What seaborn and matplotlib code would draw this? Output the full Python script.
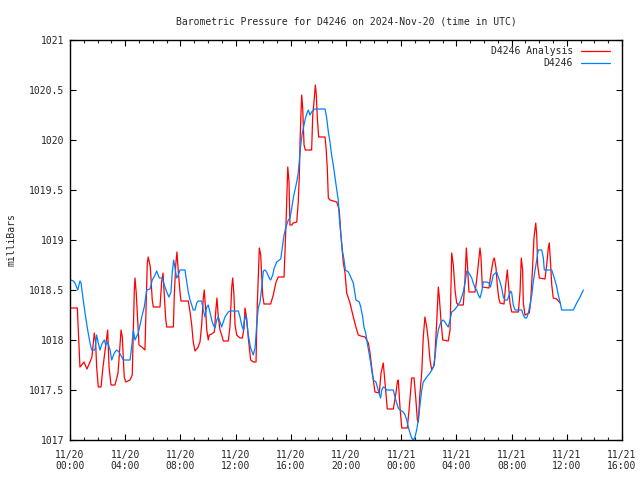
import matplotlib
matplotlib.use("Agg")
import matplotlib.pyplot as plt
import seaborn as sns
import pandas as pd
from matplotlib.ticker import MultipleLocator

# ---- data (hours after 2024-11-20 00:00 UTC, pressure in mb) ----
analysis_hours = [0.07, 0.53, 0.72, 0.85, 1.01, 1.23, 1.45, 1.59, 1.76, 1.86, 1.93, 2.05, 2.25, 2.39, 2.66, 2.73,
                  2.83, 2.97, 3.26, 3.48, 3.70, 3.79, 3.93, 4.04, 4.35, 4.51, 4.66, 4.71, 4.80, 5.00, 5.20, 5.43,
                  5.60, 5.67, 5.82, 5.96, 6.04, 6.52, 6.64, 6.74, 6.83, 6.93, 7.01, 7.49, 7.56, 7.66, 7.75, 7.85,
                  7.97, 8.04, 8.57, 8.70, 8.82, 8.93, 9.06, 9.25, 9.42, 9.54, 9.66, 9.73, 9.83, 9.91, 10.02, 10.09,
                  10.27, 10.46, 10.58, 10.65, 10.75, 10.87, 10.99, 11.11, 11.47, 11.59, 11.72, 11.79, 11.88, 11.96,
                  12.08, 12.32, 12.49, 12.61, 12.68, 12.80, 12.92, 13.09, 13.28, 13.48, 13.57, 13.72, 13.82, 13.96,
                  14.06, 14.54, 14.73, 14.93, 15.09, 15.51, 15.65, 15.78, 15.87, 15.94, 16.07, 16.18, 16.43, 16.54,
                  16.62, 16.67, 16.74, 16.79, 16.86, 16.96, 17.05, 17.51, 17.59, 17.68, 17.78, 17.85, 17.92, 18.02,
                  18.48, 18.55, 18.64, 18.72, 18.84, 19.33, 19.51, 19.62, 19.71, 19.80, 19.93, 20.05, 20.29, 20.53,
                  20.72, 20.89, 21.07, 21.38, 21.62, 21.74, 21.86, 21.98, 22.10, 22.41, 22.54, 22.70, 22.83, 22.95,
                  22.99, 23.43, 23.62, 23.72, 23.79, 23.91, 24.04, 24.44, 24.57, 24.76, 24.93, 25.05, 25.17, 25.24,
                  25.36, 25.49, 25.60, 25.72, 25.85, 25.96, 26.09, 26.21, 26.40, 26.45, 26.57, 26.69, 26.76, 26.88,
                  27.01, 27.41, 27.54, 27.66, 27.78, 27.90, 28.02, 28.14, 28.50, 28.62, 28.72, 28.79, 28.91, 29.35,
                  29.47, 29.71, 29.78, 29.88, 30.36, 30.51, 30.67, 30.75, 30.87, 30.96, 31.07, 31.16, 31.45, 31.57,
                  31.69, 31.79, 31.88, 32.01, 32.49, 32.61, 32.70, 32.80, 32.85, 32.97, 33.28, 33.38, 33.53, 33.62,
                  33.75, 33.82, 33.89, 34.01, 34.42, 34.54, 34.66, 34.73, 34.80, 34.91, 35.02, 35.27, 35.51]
analysis_mb = [1018.32, 1018.32, 1017.73, 1017.75, 1017.78, 1017.71, 1017.78, 1017.83, 1018.07, 1017.97, 1017.73,
               1017.53, 1017.53, 1017.73, 1018.03, 1018.10, 1017.73, 1017.55, 1017.55, 1017.67, 1018.10, 1018.03,
               1017.63, 1017.58, 1017.60, 1017.65, 1018.50, 1018.62, 1018.47, 1017.95, 1017.93, 1017.90, 1018.77,
               1018.83, 1018.73, 1018.40, 1018.33, 1018.33, 1018.58, 1018.67, 1018.45, 1018.22, 1018.13, 1018.13,
               1018.45, 1018.75, 1018.88, 1018.68, 1018.48, 1018.39, 1018.39, 1018.28, 1018.15, 1017.98, 1017.89,
               1017.92, 1017.98, 1018.15, 1018.42, 1018.50, 1018.30, 1018.10, 1018.00, 1018.05, 1018.06, 1018.08,
               1018.32, 1018.42, 1018.22, 1018.10, 1018.05, 1017.99, 1017.99, 1018.13, 1018.53, 1018.62, 1018.45,
               1018.15, 1018.05, 1018.02, 1018.02, 1018.12, 1018.32, 1018.22, 1018.02, 1017.80, 1017.78, 1017.78,
               1018.35, 1018.92, 1018.85, 1018.45, 1018.36, 1018.36, 1018.45, 1018.58, 1018.63, 1018.63, 1019.15,
               1019.73, 1019.58, 1019.15, 1019.15, 1019.17, 1019.18, 1019.38, 1019.65, 1019.98, 1020.28, 1020.45,
               1020.32, 1019.95, 1019.90, 1019.90, 1020.25, 1020.38, 1020.55, 1020.45, 1020.22, 1020.03, 1020.03,
               1019.93, 1019.73, 1019.42, 1019.40, 1019.38, 1019.30, 1019.07, 1018.93, 1018.78, 1018.67, 1018.47,
               1018.37, 1018.23, 1018.13, 1018.05, 1018.04, 1018.03, 1017.97, 1017.87, 1017.73, 1017.60, 1017.48,
               1017.47, 1017.67, 1017.77, 1017.57, 1017.38, 1017.31, 1017.31, 1017.47, 1017.58, 1017.60, 1017.33,
               1017.12, 1017.12, 1017.30, 1017.62, 1017.62, 1017.43, 1017.20, 1017.18, 1017.47, 1017.68, 1018.03,
               1018.23, 1018.13, 1018.00, 1017.80, 1017.70, 1017.75, 1017.87, 1018.17, 1018.53, 1018.43, 1018.20,
               1018.00, 1017.99, 1018.10, 1018.87, 1018.75, 1018.50, 1018.37, 1018.35, 1018.35, 1018.60, 1018.92,
               1018.77, 1018.48, 1018.48, 1018.60, 1018.92, 1018.83, 1018.53, 1018.52, 1018.67, 1018.80, 1018.82,
               1018.72, 1018.55, 1018.42, 1018.37, 1018.36, 1018.55, 1018.70, 1018.52, 1018.37, 1018.28, 1018.28,
               1018.48, 1018.82, 1018.70, 1018.37, 1018.25, 1018.27, 1018.38, 1018.75, 1019.02, 1019.17, 1019.05,
               1018.75, 1018.62, 1018.61, 1018.75, 1018.92, 1018.97, 1018.82, 1018.55, 1018.42, 1018.41, 1018.37]

obs_hours = [0.07, 0.24, 0.36, 0.56, 0.72, 0.80, 0.89, 1.09, 1.28, 1.45, 1.57, 1.81, 1.93, 2.05, 2.17, 2.34, 2.49,
             2.59, 2.73, 2.90, 3.02, 3.21, 3.38, 3.55, 3.75, 3.86, 4.35, 4.47, 4.59, 4.71, 4.95, 5.20, 5.38, 5.56,
             5.80, 5.96, 6.16, 6.28, 6.47, 6.69, 6.83, 7.01, 7.17, 7.32, 7.41, 7.51, 7.61, 7.73, 7.85, 7.97, 8.33,
             8.46, 8.57, 8.70, 8.82, 8.93, 9.06, 9.18, 9.30, 9.54, 9.66, 9.78, 9.91, 10.02, 10.14, 10.27, 10.38,
             10.51, 10.63, 10.75, 10.87, 10.99, 11.11, 11.23, 11.47, 11.59, 12.20, 12.32, 12.44, 12.56, 12.61,
             12.75, 12.92, 13.09, 13.28, 13.41, 13.53, 13.64, 13.77, 13.89, 14.01, 14.13, 14.25, 14.44, 14.54,
             14.69, 14.80, 14.98, 15.17, 15.27, 15.38, 15.51, 15.63, 15.82, 15.94, 16.07, 16.18, 16.30, 16.43,
             16.54, 16.62, 16.72, 16.81, 16.91, 17.03, 17.15, 17.27, 17.39, 17.51, 17.63, 17.75, 18.48, 18.60,
             18.72, 18.84, 18.96, 19.08, 19.20, 19.33, 19.44, 19.51, 19.62, 19.73, 19.86, 19.95, 20.17, 20.34,
             20.53, 20.72, 20.96, 21.07, 21.21, 21.30, 21.43, 21.54, 21.67, 21.79, 21.86, 21.98, 22.17, 22.27,
             22.39, 22.51, 22.59, 22.70, 22.83, 22.95, 23.43, 23.55, 23.67, 23.79, 23.91, 24.15, 24.28, 24.40,
             24.51, 24.64, 24.76, 24.88, 25.00, 25.12, 25.24, 25.36, 25.49, 25.60, 25.85, 26.09, 26.33, 26.45,
             26.57, 26.69, 26.88, 27.05, 27.17, 27.30, 27.41, 27.54, 27.66, 27.85, 28.02, 28.26, 28.38, 28.50,
             28.62, 28.75, 28.86, 28.99, 29.11, 29.22, 29.35, 29.47, 29.59, 29.71, 29.83, 29.95, 30.19, 30.36,
             30.46, 30.56, 30.67, 30.92, 31.04, 31.16, 31.28, 31.40, 31.52, 31.69, 31.83, 31.93, 32.01, 32.12,
             32.25, 32.73, 32.85, 32.97, 33.09, 33.21, 33.33, 33.46, 33.57, 33.70, 33.82, 33.93, 34.18, 34.30,
             34.37, 34.91, 35.02, 35.14, 35.27, 35.38, 35.51, 35.63, 36.47, 36.72, 36.96, 37.20]
obs_mb = [1018.60, 1018.59, 1018.57, 1018.50, 1018.59, 1018.57, 1018.47, 1018.27, 1018.10, 1017.97, 1017.90,
          1017.90, 1018.05, 1017.97, 1017.90, 1017.97, 1018.00, 1017.95, 1017.98, 1017.90, 1017.80, 1017.87,
          1017.90, 1017.88, 1017.83, 1017.80, 1017.80, 1017.93, 1018.10, 1018.00, 1018.07, 1018.23, 1018.33,
          1018.50, 1018.51, 1018.60, 1018.65, 1018.69, 1018.62, 1018.62, 1018.55, 1018.48, 1018.43, 1018.48,
          1018.68, 1018.80, 1018.72, 1018.62, 1018.65, 1018.70, 1018.70, 1018.58, 1018.48, 1018.40, 1018.35,
          1018.30, 1018.30, 1018.37, 1018.39, 1018.39, 1018.30, 1018.23, 1018.33, 1018.35, 1018.28, 1018.20,
          1018.15, 1018.12, 1018.20, 1018.23, 1018.18, 1018.13, 1018.18, 1018.23, 1018.28, 1018.29, 1018.29,
          1018.23, 1018.15, 1018.10, 1018.18, 1018.25, 1018.05, 1017.92, 1017.85, 1017.92, 1018.15, 1018.32,
          1018.38, 1018.52, 1018.69, 1018.70, 1018.68, 1018.62, 1018.60, 1018.65, 1018.72, 1018.78, 1018.80,
          1018.81, 1018.92, 1019.05, 1019.12, 1019.20, 1019.22, 1019.32, 1019.42, 1019.50, 1019.58, 1019.67,
          1019.80, 1019.95, 1020.05, 1020.12, 1020.20, 1020.26, 1020.30, 1020.25, 1020.28, 1020.30, 1020.31,
          1020.31, 1020.22, 1020.08, 1019.98, 1019.85, 1019.75, 1019.63, 1019.50, 1019.40, 1019.23, 1019.07,
          1018.90, 1018.80, 1018.70, 1018.68, 1018.63, 1018.57, 1018.40, 1018.38, 1018.33, 1018.23, 1018.13,
          1018.07, 1017.97, 1017.87, 1017.77, 1017.70, 1017.60, 1017.58, 1017.53, 1017.47, 1017.42, 1017.50,
          1017.53, 1017.52, 1017.50, 1017.50, 1017.43, 1017.37, 1017.32, 1017.30, 1017.28, 1017.25, 1017.20,
          1017.13, 1017.07, 1017.02, 1017.00, 1017.03, 1017.10, 1017.20, 1017.35, 1017.50, 1017.58, 1017.63,
          1017.67, 1017.73, 1017.83, 1018.00, 1018.10, 1018.18, 1018.20, 1018.18, 1018.15, 1018.13, 1018.20,
          1018.28, 1018.30, 1018.33, 1018.38, 1018.43, 1018.48, 1018.57, 1018.69, 1018.68, 1018.65, 1018.62,
          1018.57, 1018.52, 1018.50, 1018.45, 1018.42, 1018.48, 1018.58, 1018.58, 1018.57, 1018.53, 1018.58,
          1018.65, 1018.68, 1018.63, 1018.58, 1018.52, 1018.43, 1018.40, 1018.40, 1018.45, 1018.49, 1018.47,
          1018.35, 1018.30, 1018.30, 1018.25, 1018.22, 1018.22, 1018.27, 1018.35, 1018.45, 1018.58, 1018.70,
          1018.80, 1018.90, 1018.90, 1018.82, 1018.70, 1018.70, 1018.65, 1018.60, 1018.53, 1018.45, 1018.38,
          1018.30, 1018.30, 1018.37, 1018.43, 1018.50]

series_names = ["D4246 Analysis", "D4246"]
series_colors = ["#ff0000", "#0080ff"]
xtick_hours = [0, 4, 8, 12, 16, 20, 24, 28, 32, 36, 40]
xtick_labels = ["11/20\n00:00", "11/20\n04:00", "11/20\n08:00", "11/20\n12:00", "11/20\n16:00", "11/20\n20:00",
                "11/21\n00:00", "11/21\n04:00", "11/21\n08:00", "11/21\n12:00", "11/21\n16:00"]
ytick_values = [1017, 1017.5, 1018, 1018.5, 1019, 1019.5, 1020, 1020.5, 1021]
ytick_labels = ["1017", "1017.5", "1018", "1018.5", "1019", "1019.5", "1020", "1020.5", "1021"]
title_text = "Barometric Pressure for D4246 on 2024-Nov-20 (time in UTC)"
ylabel_text = "milliBars"

# ---- style ----
sns.set_style("ticks")
plt.rcParams['font.family'] = ['DejaVu Sans Mono', 'DejaVu Sans']
plt.rcParams['font.size'] = 7

df = pd.concat([
    pd.DataFrame({"hour": analysis_hours, "mb": analysis_mb, "series": series_names[0]}),
    pd.DataFrame({"hour": obs_hours, "mb": obs_mb, "series": series_names[1]}),
], ignore_index=True)

fig = plt.figure(figsize=(6.4, 4.8), dpi=100)
ax = fig.add_axes([70 / 640, 40 / 480, 552 / 640, 400 / 480])
sns.lineplot(data=df, x="hour", y="mb", hue="series", hue_order=series_names,
             palette=dict(zip(series_names, series_colors)), estimator=None, sort=False,
             linewidth=0.9, ax=ax)

ax.set_xlim(0, 40)
ax.set_ylim(1017, 1021)
ax.set_xticks(xtick_hours)
ax.set_xticklabels(xtick_labels)
ax.set_yticks(ytick_values)
ax.set_yticklabels(ytick_labels)
ax.xaxis.set_minor_locator(MultipleLocator(1))
ax.tick_params(axis="both", which="major", direction="in", length=4.3, width=0.8,
               top=True, right=True, labelsize=7, color="black")
ax.tick_params(axis="x", which="major", pad=7)
ax.tick_params(axis="y", which="major", pad=4)
ax.tick_params(axis="x", which="minor", direction="in", length=2.2, width=0.8, top=True, bottom=True)
for s in ax.spines.values():
    s.set_visible(True)
    s.set_linewidth(1.0)
    s.set_color("black")

ax.set_xlabel("")
ax.set_ylabel(ylabel_text, fontsize=7, labelpad=9)
ax.set_title(title_text, fontsize=7, pad=11.5)

handles, labels = ax.get_legend_handles_labels()
ax.legend(handles, labels, loc="upper right", bbox_to_anchor=(1.0 - 5 / 552, 1.0 + 1 / 400), frameon=False,
          markerfirst=False, fontsize=7, handlelength=3.0, handletextpad=0.8,
          labelspacing=0.2, borderaxespad=0.3, borderpad=0.45)

fig.savefig("out.png", dpi=100)
